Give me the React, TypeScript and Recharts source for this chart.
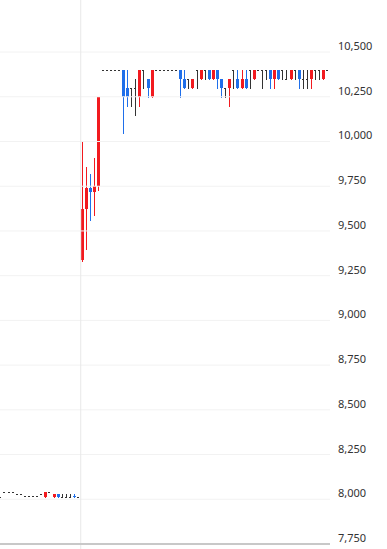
import { ComposedChart, Bar, XAxis, YAxis, ReferenceLine } from 'recharts'

// two sessions of minute candles: a quiet ~8,000 day, then a limit-up day (10,400)
const opens = [
  8010, 8040, 8040, 8040, 8030, 8030, 8020, 8020, 8020, 8020,
  8030, 8010, 8040, 8010, 8030, 8010, 8010, 8010, 8020, 8010,
  9340, 9620, 9740, 9720, 9750, 10400, 10400, 10400, 10400, 10400,
  10400, 10300, 10300, 10300, 10250, 10400, 10350, 10250, 10400, 10400,
  10400, 10400, 10400, 10400, 10400, 10350, 10350, 10300, 10400, 10350,
  10400, 10400, 10350, 10400, 10350, 10300, 10300, 10400, 10350, 10300,
  10350, 10400, 10350, 10400, 10400, 10400, 10400, 10350, 10400, 10400,
  10350, 10350, 10400, 10400, 10350, 10350, 10350, 10400, 10400, 10350,
  10400,
]
const highs = [
  8010, 8040, 8040, 8040, 8030, 8030, 8020, 8020, 8020, 8020,
  8030, 8040, 8040, 8030, 8030, 8030, 8030, 8030, 8030, 8010,
  10000, 9860, 9820, 9910, 10250, 10400, 10400, 10400, 10400, 10400,
  10400, 10400, 10300, 10350, 10400, 10400, 10350, 10400, 10400, 10400,
  10400, 10400, 10400, 10400, 10400, 10400, 10350, 10350, 10400, 10400,
  10400, 10400, 10400, 10400, 10350, 10300, 10350, 10400, 10400, 10400,
  10400, 10400, 10400, 10400, 10400, 10400, 10400, 10400, 10400, 10400,
  10400, 10400, 10400, 10400, 10400, 10400, 10400, 10400, 10400, 10400,
  10400,
]
const lows = [
  8010, 8040, 8040, 8040, 8030, 8030, 8020, 8020, 8020, 8020,
  8030, 8010, 8040, 8010, 8010, 8010, 8010, 8010, 8010, 8010,
  9330, 9400, 9560, 9590, 9730, 10400, 10400, 10400, 10400, 10400,
  10050, 10200, 10200, 10150, 10200, 10300, 10250, 10250, 10400, 10400,
  10400, 10400, 10400, 10400, 10250, 10300, 10300, 10300, 10300, 10350,
  10350, 10350, 10350, 10300, 10250, 10250, 10200, 10300, 10300, 10300,
  10300, 10300, 10350, 10400, 10300, 10350, 10300, 10300, 10350, 10350,
  10350, 10350, 10350, 10300, 10300, 10300, 10300, 10350, 10350, 10350,
  10400,
]
const closes = [
  8010, 8040, 8040, 8040, 8030, 8030, 8020, 8020, 8020, 8020,
  8030, 8040, 8040, 8030, 8010, 8010, 8010, 8010, 8010, 8010,
  9620, 9740, 9720, 9750, 10250, 10400, 10400, 10400, 10400, 10400,
  10250, 10250, 10300, 10300, 10400, 10400, 10300, 10400, 10400, 10400,
  10400, 10400, 10400, 10400, 10350, 10300, 10350, 10350, 10400, 10400,
  10400, 10350, 10400, 10350, 10300, 10300, 10350, 10400, 10300, 10350,
  10300, 10400, 10400, 10400, 10400, 10400, 10350, 10400, 10350, 10400,
  10350, 10400, 10400, 10350, 10350, 10350, 10400, 10400, 10400, 10400,
  10400,
]
const priceTicks = [7750, 8000, 8250, 8500, 8750, 9000, 9250, 9500, 9750, 10000, 10250, 10500]
const yMin = 7722
const yMax = 10791

const data = opens.map((open, i) => ({
  t: `m${i}`,
  open,
  high: highs[i],
  low: lows[i],
  close: closes[i],
}))

const UP = '#f21a1f'
const DOWN = '#1f6fea'
const FLAT = '#333333'

const Candle = (props: any) => {
  const { x, y, width, height, payload } = props
  const { open, high, low, close } = payload
  const ratio = height / (high - yMin)
  const py = (v: number) => Math.round(y + (high - v) * ratio)
  const cx = Math.floor(x + width / 2)
  const color = close > open ? UP : close < open ? DOWN : FLAT
  const top = py(Math.max(open, close))
  const bottom = py(Math.min(open, close))
  return (
    <g>
      {high !== low && (
        <rect x={cx} y={py(high)} width={1} height={py(low) - py(high) + 1} fill={color} />
      )}
      {open !== close ? (
        <rect x={cx - 1} y={top} width={3} height={bottom - top} fill={color} />
      ) : (
        <rect x={cx - 1} y={top} width={2} height={1} fill={color} />
      )}
    </g>
  )
}

const PriceTick = ({ x, y, payload }: any) => (
  <text x={x} y={y} dy={-2} fill="#333" fontSize={11} fontFamily="Noto Sans" textAnchor="start">
    {payload.value.toLocaleString('en-US')}
  </text>
)

export default function App() {
  return (
    <div style={{ position: 'absolute', left: -1, top: 0, background: '#fff' }}>
      <ComposedChart width={388} height={549} data={data} margin={{ top: 0, right: 0, bottom: 0, left: 0 }}>
        <XAxis dataKey="t" hide />
        <YAxis
          orientation="right"
          width={57}
          domain={[yMin, yMax]}
          ticks={priceTicks}
          interval={0}
          allowDataOverflow
          axisLine={false}
          tickLine={false}
          tick={<PriceTick />}
        />
        {/* horizontal grid at each price tick */}
        {priceTicks.map((p) => (
          <ReferenceLine key={p} y={p} stroke="#f2f2f2" />
        ))}
        <ReferenceLine x="m20" position="start" stroke="#e8e8e8" />
        <ReferenceLine y={7750} stroke="#c8c8c8" strokeWidth={2} />
        <Bar dataKey={(d: any) => [yMin, d.high]} shape={<Candle />} isAnimationActive={false} />
      </ComposedChart>
    </div>
  )
}
